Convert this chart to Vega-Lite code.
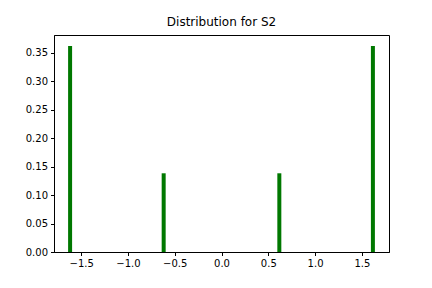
{
  "$schema": "https://vega.github.io/schema/vega-lite/v6.json",
  "width": 335,
  "height": 217,
  "autosize": {"type": "none"},
  "padding": {"left": 54, "top": 35, "right": 43, "bottom": 36},
  "background": "white",
  "title": {"text": "Distribution for S2", "font": "DejaVu Sans", "fontSize": 12, "fontWeight": "normal", "color": "black", "offset": 6},
  "config": {
    "view": {"stroke": "black", "strokeWidth": 1},
    "axis": {
      "grid": false,
      "domainColor": "black",
      "tickColor": "black",
      "tickSize": 3.5,
      "labelFont": "DejaVu Sans",
      "labelFontSize": 10,
      "labelColor": "black",
      "labelPadding": 3,
      "title": null
    }
  },
  "data": {"values": [
    {"x": -1.618, "p": 0.3618},
    {"x": -0.618, "p": 0.1382},
    {"x": 0.618, "p": 0.1382},
    {"x": 1.618, "p": 0.3618}
  ]},
  "mark": {"type": "rule", "strokeWidth": 4, "color": "#007800", "strokeCap": "butt"},
  "encoding": {
    "x": {"field": "x", "type": "quantitative", "scale": {"domain": [-1.79, 1.79], "nice": false, "zero": false},
      "axis": {"values": [-1.5, -1.0, -0.5, 0.0, 0.5, 1.0, 1.5], "format": ".1f"}},
    "y": {"field": "p", "type": "quantitative", "scale": {"domain": [0, 0.381], "nice": false},
      "axis": {"values": [0, 0.05, 0.1, 0.15, 0.2, 0.25, 0.3, 0.35], "format": ".2f"}},
    "y2": {"datum": 0}
  }
}
